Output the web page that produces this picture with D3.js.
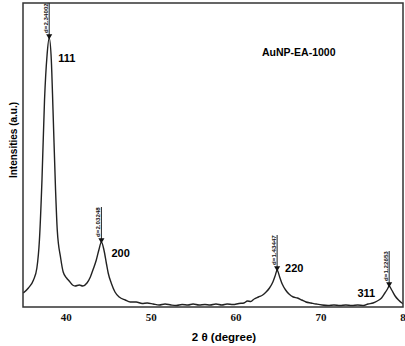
<!DOCTYPE html>
<html>
<head>
<meta charset="utf-8">
<script src="https://cdn.jsdelivr.net/npm/d3@7"></script>
<style>
  body { margin: 0; background: #fff; }
  svg { display: block; }
</style>
</head>
<body>
<div id="wrapper"></div>
<script>
// XRD pattern, 2-theta (degree) vs intensity (a.u.)
const twoTheta = [35.0, 35.6, 36.2, 36.6, 36.9, 37.2, 37.5, 37.8, 38.05, 38.3, 38.5, 38.8, 39.0, 39.4, 39.7,
    40.1, 40.4, 40.8, 41.1, 41.6, 42.0, 42.5, 42.9, 43.2, 43.6, 43.9, 44.2, 44.5, 44.8, 45.0, 45.4, 45.8,
    46.3, 47.0, 47.6, 48.3, 49.0, 49.6, 50.3, 51.0, 51.7, 52.4, 53.0, 53.7, 54.4, 55.0, 55.7, 56.4, 57.0,
    57.7, 58.4, 59.0, 59.7, 60.4, 61.0, 61.4, 61.8, 62.2, 62.7, 63.2, 63.6, 64.0, 64.4, 64.7, 64.9, 65.2,
    65.5, 65.9, 66.3, 66.8, 67.3, 67.8, 68.3, 68.9, 69.5, 70.2, 70.9, 71.6, 72.3, 73.0, 73.7, 74.4, 75.1,
    75.6, 76.2, 76.7, 77.2, 77.6, 77.9, 78.1, 78.4, 78.8, 79.2, 79.6, 80.0, 80.5];
const intensity = [14, 19, 27, 39, 67, 127, 207, 252, 269, 247, 197, 117, 77, 49, 35,
    29, 26, 22, 21, 22, 21, 24, 30, 37, 47, 57, 65, 57, 43, 34, 23, 15,
    10, 7, 5, 5, 3.5, 4, 3, 2, 3, 2, 1.5, 2.5, 2, 3, 2, 2.5, 2,
    3, 2, 3, 2.5, 3.5, 4, 6, 5.5, 8, 10, 12, 15, 19, 25, 32, 37, 30,
    23, 17, 13, 10, 9, 7, 5, 4, 3, 2, 1.5, 2, 1.5, 2, 1.5, 2, 1.5,
    3, 4, 6, 9, 14, 18, 21, 17, 11, 7, 4, 2, 1];

const peakTheta = [38.05, 44.2, 64.9, 78.1];
const peakIntensity = [269, 65, 37, 21];
const peakHkl = ["111", "200", "220", "311"];
const peakD = ["d=2.34002", "d=2.03248", "d=1.43447", "d=1.22653"];

const xTicks = [40, 50, 60, 70, 80];
const sampleName = "AuNP-EA-1000";

const data = twoTheta.map((t, i) => ({ t: t, v: intensity[i] }));

const dimension = {
    width: 405,
    height: 346,
    frame: { left: 23, top: 3, right: 403, bottom: 307 }
};

const svg = d3.select("#wrapper").append("svg")
    .attr("width", dimension.width)
    .attr("height", dimension.height);

const xScaler = d3.scaleLinear()
    .domain([35, 80])
    .range([23.3, 405.3]);

const yScaler = d3.scaleLinear()
    .domain([0, 304])
    .range([dimension.frame.bottom, dimension.frame.top]);

svg.append("clipPath").attr("id", "clip")
    .append("rect")
    .attr("x", dimension.frame.left)
    .attr("y", dimension.frame.top)
    .attr("width", dimension.frame.right - dimension.frame.left)
    .attr("height", dimension.frame.bottom - dimension.frame.top);

const lineGenerator = d3.line()
    .x(d => xScaler(d.t))
    .y(d => yScaler(d.v))
    .curve(d3.curveMonotoneX);

svg.append("path")
    .attr("d", lineGenerator(data))
    .attr("clip-path", "url(#clip)")
    .attr("fill", "none")
    .attr("stroke", "#222")
    .attr("stroke-width", 1.4)
    .attr("stroke-linejoin", "round");

// frame
svg.append("rect")
    .attr("x", dimension.frame.left)
    .attr("y", dimension.frame.top)
    .attr("width", dimension.frame.right - dimension.frame.left)
    .attr("height", dimension.frame.bottom - dimension.frame.top)
    .attr("fill", "none")
    .attr("stroke", "#333")
    .attr("stroke-width", 1.5);

// x axis, labels only
const xAxis = d3.axisBottom(xScaler)
    .tickValues(xTicks)
    .tickSize(0)
    .tickPadding(6);

const xg = svg.append("g")
    .attr("transform", "translate(0," + dimension.frame.bottom + ")")
    .call(xAxis);
xg.select(".domain").remove();
xg.selectAll("text")
    .style("font-family", "'Liberation Serif', 'Times New Roman', serif")
    .style("font-weight", "bold")
    .style("font-size", "11px")
    .attr("fill", "#111");

svg.append("text")
    .attr("x", 224)
    .attr("y", 341)
    .attr("text-anchor", "middle")
    .style("font-family", "'Liberation Sans', Arial, sans-serif")
    .style("font-weight", "bold")
    .style("font-size", "11.5px")
    .text("2 θ (degree)");

svg.append("text")
    .attr("text-anchor", "middle")
    .attr("transform", "translate(17,140) rotate(-90)")
    .style("font-family", "'Liberation Sans', Arial, sans-serif")
    .style("font-weight", "bold")
    .style("font-size", "10px")
    .text("Intensities (a.u.)");

svg.append("text")
    .attr("x", 262)
    .attr("y", 56)
    .style("font-family", "'Liberation Sans', Arial, sans-serif")
    .style("font-weight", "bold")
    .style("font-size", "10.5px")
    .text(sampleName);

// peak markers: vertical stem, d-spacing text, triangle
const labelOffset = [[9, 24, "start"], [10, 15, "start"], [8, 2, "start"], [-14, 11, "end"]];

peakTheta.forEach((t, i) => {
    const px = xScaler(t);
    const py = yScaler(peakIntensity[i]);
    const g = svg.append("g");
    g.append("line")
        .attr("x1", px).attr("x2", px)
        .attr("y1", py).attr("y2", Math.max(dimension.frame.top, py - 35))
        .attr("stroke", "#222")
        .attr("stroke-width", 1);
    g.append("path")
        .attr("d", d3.symbol().type(d3.symbolTriangle).size(16)())
        .attr("transform", "translate(" + px + "," + (py - 2) + ") rotate(180)")
        .attr("fill", "#111");
    g.append("text")
        .attr("transform", "translate(" + (px - 1) + "," + (py - 5) + ") rotate(-90)")
        .style("font-family", "'Liberation Sans', Arial, sans-serif")
        .style("font-weight", "bold")
        .style("font-size", "6.2px")
        .attr("fill", "#111")
        .text(peakD[i]);
    g.append("text")
        .attr("x", px + labelOffset[i][0])
        .attr("y", py + labelOffset[i][1])
        .attr("text-anchor", labelOffset[i][2])
        .style("font-family", "'Liberation Sans', Arial, sans-serif")
        .style("font-weight", "bold")
        .style("font-size", "11px")
        .text(peakHkl[i]);
});
</script>
</body>
</html>
